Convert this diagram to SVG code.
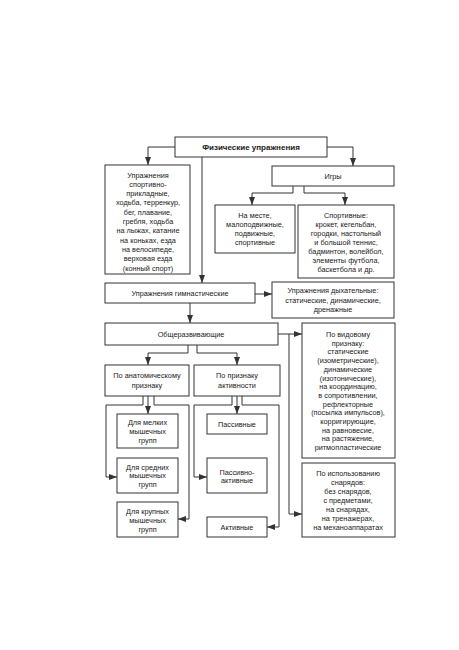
<svg xmlns="http://www.w3.org/2000/svg" width="459" height="650" viewBox="0 0 459 650">
<defs>
<marker id="ah" viewBox="0 0 8 6" refX="8" refY="3" markerWidth="8" markerHeight="6" markerUnits="userSpaceOnUse" orient="auto">
<path d="M0,0 L8,3 L0,6 Z" fill="#333"/>
</marker>
<style>
rect{fill:#fff;stroke:#333;stroke-width:1}
text{font-family:"Liberation Sans",Arial,sans-serif;font-size:7.3px;fill:#1a1a1a;text-anchor:middle}
.t{font-weight:bold;font-size:8px}
#connectors path{fill:none;stroke:#333;stroke-width:1;marker-end:url(#ah)}
</style>
</defs>
<rect x="0" y="0" width="459" height="650" style="fill:#fff;stroke:none"/>
<g id="connectors">
<path d="M175,147 H148 V165"/>
<path d="M327,147 H353 V166"/>
<path d="M202,157 V283"/>
<path d="M293,186 V193 H252 V205"/>
<path d="M304,186 V193 H345 V205"/>
<path d="M255,294 H272"/>
<path d="M190,303 V323"/>
<path d="M278,334 H302"/>
<path d="M289,334 V514 H302"/>
<path d="M188,345 V353 H148 V365"/>
<path d="M197,345 V353 H237 V365"/>
<path d="M148,396 V414"/>
<path d="M143,396 V405 H106 V477 H117"/>
<path d="M154,396 V405 H189 V519 H178"/>
<path d="M237,396 V414"/>
<path d="M232,396 V405 H194 V477 H207"/>
<path d="M242,396 V405 H279 V527 H267"/>
</g>
<g id="n-title"><rect x="175" y="137" width="152" height="20"/><text class="t" x="251" y="150">Физические упражнения</text></g>
<g id="n-sport-prikl"><rect x="105" y="165" width="85" height="109"/>
<text x="148" y="177.5">Упражнения</text><text x="148" y="186.8">спортивно-</text><text x="148" y="196.1">прикладные,</text><text x="148" y="205.4">ходьба, терренкур,</text><text x="148" y="214.7">бег, плавание,</text><text x="148" y="224">гребля, ходьба</text><text x="148" y="233.3">на лыжах, катание</text><text x="148" y="242.6">на коньках, езда</text><text x="148" y="251.9">на велосипеде,</text><text x="148" y="261.2">верховая езда</text><text x="148" y="270.5">(конный спорт)</text></g>
<g id="n-igry"><rect x="272" y="166" width="122" height="20"/><text x="333" y="179">Игры</text></g>
<g id="n-na-meste"><rect x="215" y="205" width="80" height="48"/>
<text x="255" y="218">На месте,</text><text x="255" y="227">малоподвижные,</text><text x="255" y="236">подвижные,</text><text x="255" y="245">спортивные</text></g>
<g id="n-sportivnye"><rect x="298" y="205" width="96" height="73"/>
<text x="346" y="218">Спортивные:</text><text x="346" y="227">крокет, кегельбан,</text><text x="346" y="236">городки, настольный</text><text x="346" y="245">и большой теннис,</text><text x="346" y="254">бадминтон, волейбол,</text><text x="346" y="263">элементы футбола,</text><text x="346" y="272">баскетбола и др.</text></g>
<g id="n-gimn"><rect x="105" y="283" width="150" height="20"/><text x="180" y="296">Упражнения гимнастические</text></g>
<g id="n-dyh"><rect x="272" y="282" width="122" height="36"/>
<text x="333" y="293">Упражнения дыхательные:</text><text x="333" y="302.5">статические, динамические,</text><text x="333" y="312">дренажные</text></g>
<g id="n-obshch"><rect x="105" y="323" width="173" height="22"/><text x="191" y="337">Общеразвивающие</text></g>
<g id="n-vid"><rect x="302" y="323" width="93" height="135"/>
<text x="348" y="337">По видовому</text><text x="348" y="345.7">признаку:</text><text x="348" y="354.4">статические</text><text x="348" y="363.1">(изометрические),</text><text x="348" y="371.8">динамические</text><text x="348" y="380.5">(изотонические),</text><text x="348" y="389.2">на координацию,</text><text x="348" y="397.9">в сопротивлении,</text><text x="348" y="406.6">рефлекторные</text><text x="348" y="415.3">(посылка импульсов),</text><text x="348" y="424">корригирующие,</text><text x="348" y="432.7">на равновесие,</text><text x="348" y="441.4">на растяжение,</text><text x="348" y="450.1">ритмопластические</text></g>
<g id="n-snar"><rect x="302" y="463" width="93" height="74"/>
<text x="348" y="476">По использованию</text><text x="348" y="485">снарядов:</text><text x="348" y="494">без снарядов,</text><text x="348" y="503">с предметами,</text><text x="348" y="512">на снарядах,</text><text x="348" y="521">на тренажерах,</text><text x="348" y="530">на механоаппаратах</text></g>
<g id="n-anat"><rect x="105" y="365" width="84" height="31"/><text x="147" y="378">По анатомическому</text><text x="147" y="388">признаку</text></g>
<g id="n-aktiv"><rect x="194" y="365" width="86" height="31"/><text x="237" y="378">По признаку</text><text x="237" y="388">активности</text></g>
<g id="n-melk"><rect x="117" y="414" width="61" height="34"/><text x="147.5" y="425">Для мелких</text><text x="147.5" y="434">мышечных</text><text x="147.5" y="443">групп</text></g>
<g id="n-sred"><rect x="117" y="458" width="61" height="35"/><text x="147.5" y="469.5">Для средних</text><text x="147.5" y="478">мышечных</text><text x="147.5" y="487">групп</text></g>
<g id="n-krup"><rect x="117" y="502" width="61" height="35"/><text x="147.5" y="513.5">Для крупных</text><text x="147.5" y="522.5">мышечных</text><text x="147.5" y="531.5">групп</text></g>
<g id="n-pass"><rect x="207" y="414" width="60" height="20"/><text x="237" y="427">Пассивные</text></g>
<g id="n-passakt"><rect x="207" y="458" width="60" height="35"/><text x="237" y="474.5">Пассивно-</text><text x="237" y="483">активные</text></g>
<g id="n-akt"><rect x="207" y="517" width="60" height="20"/><text x="237" y="530">Активные</text></g>
</svg>
